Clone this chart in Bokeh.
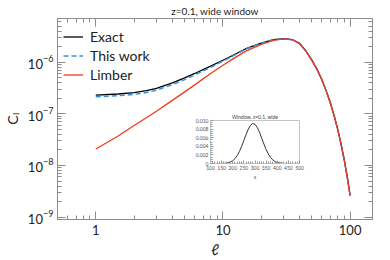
from bokeh.plotting import figure
from bokeh.models import (LogAxis, FixedTicker, BasicTickFormatter, CustomJSTickFormatter,
                          Legend, LegendItem, GridBox, PrintfTickFormatter)
from bokeh.embed import file_html
from bokeh.resources import INLINE

# ---------------- data ----------------
ell = [1, 1.5, 2, 2.5, 3, 4, 5, 6, 8, 10, 12, 15, 20, 25, 30, 35, 40, 45, 50,
       55, 60, 65, 70, 75, 80, 85, 90, 95, 100]
cl_exact = [2.30e-7, 2.42e-7, 2.57e-7, 2.80e-7, 3.11e-7, 3.97e-7, 4.97e-7, 6.04e-7,
            8.41e-7, 1.09e-6, 1.36e-6, 1.80e-6, 2.34e-6, 2.72e-6, 2.86e-6, 2.74e-6,
            2.32e-6, 1.64e-6, 1.10e-6, 7.24e-7, 4.57e-7, 2.75e-7, 1.62e-7, 9.12e-8,
            4.95e-8, 2.57e-8, 1.27e-8, 5.96e-9, 2.63e-9]
cl_thiswork = [2.14e-7, 2.24e-7, 2.38e-7, 2.58e-7, 2.87e-7, 3.66e-7, 4.60e-7, 5.64e-7,
               7.94e-7, 1.05e-6, 1.32e-6, 1.77e-6, 2.33e-6, 2.71e-6, 2.86e-6, 2.74e-6,
               2.32e-6, 1.64e-6, 1.10e-6, 7.24e-7, 4.57e-7, 2.75e-7, 1.62e-7, 9.12e-8,
               4.95e-8, 2.57e-8, 1.27e-8, 5.96e-9, 2.63e-9]
cl_limber = [2.09e-8, 3.72e-8, 5.96e-8, 8.41e-8, 1.12e-7, 1.82e-7, 2.66e-7, 3.63e-7,
             6.03e-7, 8.71e-7, 1.16e-6, 1.62e-6, 2.21e-6, 2.63e-6, 2.82e-6, 2.71e-6,
             2.29e-6, 1.62e-6, 1.08e-6, 7.16e-7, 4.52e-7, 2.72e-7, 1.60e-7, 9.02e-8,
             4.90e-8, 2.54e-8, 1.26e-8, 5.89e-9, 2.60e-9]
x_ticks = [1, 10, 100]
y_ticks = [1e-9, 1e-8, 1e-7, 1e-6]

win_x = [100, 110, 120, 130, 140, 150, 160, 170, 180, 190, 200, 210, 220, 230, 240,
         250, 260, 270, 280, 290, 300, 310, 320, 330, 340, 350, 360, 370, 380, 390,
         400, 410, 420, 430, 440, 450, 460, 470, 480, 490, 500]
win_w = [0, 0, 0, 0, 0.00001, 0.00002, 0.00004, 0.00009, 0.00018, 0.00036, 0.00066,
         0.00114, 0.00184, 0.0028, 0.0040, 0.00536, 0.00675, 0.0080, 0.0089, 0.0093,
         0.00912, 0.0084, 0.0073, 0.0059, 0.00453, 0.00325, 0.0022, 0.00139, 0.00083,
         0.00046, 0.00024, 0.00012, 0.00006, 0.00002, 0.00001, 0, 0, 0, 0, 0, 0]
win_xticks = [100, 150, 200, 250, 300, 350, 400, 450, 500]
win_yticks = [0, 0.002, 0.004, 0.006, 0.008, 0.010]

main_title = "z=0.1, wide window"
inset_title = "Window, z=0.1, wide"
legend_labels = ["Exact", "This work", "Limber"]
x_label = "ℓ"
y_label = "Cₗ"

FONT = "Lato"
AX = "#8c8c8c"

# ---------------- main figure ----------------
p = figure(width=390, height=260, x_axis_type="log", y_axis_type="log",
           x_range=(0.5, 150), y_range=(9e-10, 7e-6),
           output_backend="svg", toolbar_location=None, title=main_title,
           min_border_left=54, min_border_right=18, min_border_top=17, min_border_bottom=39)
p.xgrid.visible = False
p.ygrid.visible = False
p.outline_line_color = AX
p.background_fill_color = "white"
p.title.text_font = FONT
p.title.text_font_size = "10px"
p.title.text_font_style = "normal"
p.title.text_color = "#222222"
p.title.align = "center"
p.title.standoff = 4

x_minor = [m * 10 ** e for e in (-1, 0, 1, 2) for m in range(2, 10)]
y_minor = [m * 10.0 ** e for e in range(-10, -5) for m in range(2, 10)]
xt = FixedTicker(ticks=x_ticks, minor_ticks=x_minor)
yt = FixedTicker(ticks=y_ticks, minor_ticks=y_minor)


def style(ax):
    ax.axis_line_color = AX
    ax.major_tick_line_color = AX
    ax.minor_tick_line_color = AX
    ax.major_tick_in = 8
    ax.major_tick_out = 0
    ax.minor_tick_in = 4
    ax.minor_tick_out = 0
    ax.major_label_text_font = FONT
    ax.major_label_text_font_size = "13px"
    ax.major_label_text_color = "#222222"
    ax.axis_label_text_font = FONT
    ax.axis_label_text_font_style = "normal"
    ax.axis_label_text_color = "#222222"


xa = p.xaxis[0]
xa.ticker = xt
xa.formatter = BasicTickFormatter()
style(xa)
xa.major_label_standoff = 5
xa.axis_label = x_label
xa.axis_label_text_font_size = "15px"
xa.axis_label_standoff = 2

ya = p.yaxis[0]
ya.ticker = yt
style(ya)
ya.major_label_standoff = 4
ya.axis_label = y_label
ya.axis_label_text_font_size = "14px"
ya.axis_label_standoff = 4

top = LogAxis(ticker=xt, formatter=CustomJSTickFormatter(code="return ''"))
style(top)
top.major_label_standoff = 0
p.add_layout(top, "above")
right = LogAxis(ticker=yt, formatter=CustomJSTickFormatter(code="return ''"))
style(right)
right.major_label_standoff = 0
p.add_layout(right, "right")

r1 = p.line(ell, cl_exact, line_color="black", line_width=1.3)
r2 = p.line(ell, cl_thiswork, line_color="#3a8fd9", line_width=1.5, line_dash="5 3")
r3 = p.line(ell, cl_limber, line_color="#f2391c", line_width=1.3)

legend = Legend(items=[LegendItem(label=legend_labels[0], renderers=[r1]),
                       LegendItem(label=legend_labels[1], renderers=[r2]),
                       LegendItem(label=legend_labels[2], renderers=[r3])],
                location=(6, 136), padding=6, margin=0, spacing=2,
                glyph_width=20, glyph_height=17, label_height=17, label_standoff=7,
                label_text_font=FONT, label_text_font_size="14px",
                label_text_color="#222222",
                border_line_color=None, background_fill_alpha=0)
p.add_layout(legend)

# ---------------- inset ----------------
IAX = "#c4c4c4"
q = figure(width=164, height=102, x_range=(100, 500), y_range=(0, 0.010),
           output_backend="svg", toolbar_location=None,
           min_border_left=24, min_border_right=4, min_border_top=12, min_border_bottom=16,
           title=inset_title)
q.margin = (102, 0, 0, 153)
q.border_fill_color = None
q.background_fill_color = "white"
q.outline_line_color = IAX
q.xgrid.visible = False
q.ygrid.visible = False
q.title.text_font = FONT
q.title.text_font_size = "5px"
q.title.text_font_style = "normal"
q.title.text_color = "#444444"
q.title.align = "center"
q.title.standoff = 1

q.line(win_x, win_w, line_color="#333333", line_width=1)

qx = q.xaxis[0]
qx.ticker = FixedTicker(ticks=win_xticks,
                        minor_ticks=[v for v in range(100, 501, 10) if v % 50])
qy = q.yaxis[0]
qy.ticker = FixedTicker(ticks=win_yticks,
                        minor_ticks=[i * 0.0005 for i in range(21) if i % 4])
qy.formatter = PrintfTickFormatter(format="%.3f")
qy.major_label_overrides = {0: "0"}
qx.axis_label = "x"
for ax in (qx, qy):
    ax.axis_line_color = IAX
    ax.major_tick_line_color = "#999999"
    ax.minor_tick_line_color = "#999999"
    ax.major_tick_in = 3
    ax.major_tick_out = 0
    ax.minor_tick_in = 2
    ax.minor_tick_out = 0
    ax.major_label_text_font = FONT
    ax.major_label_text_font_size = "5px"
    ax.major_label_text_color = "#555555"
    ax.major_label_standoff = 2
    ax.axis_label_text_font = FONT
    ax.axis_label_text_font_size = "5px"
    ax.axis_label_text_font_style = "normal"
    ax.axis_label_text_color = "#555555"
    ax.axis_label_standoff = 1

grid = GridBox(children=[(p, 0, 0), (q, 0, 0)])

open("out.html", "w").write(file_html(grid, INLINE))
